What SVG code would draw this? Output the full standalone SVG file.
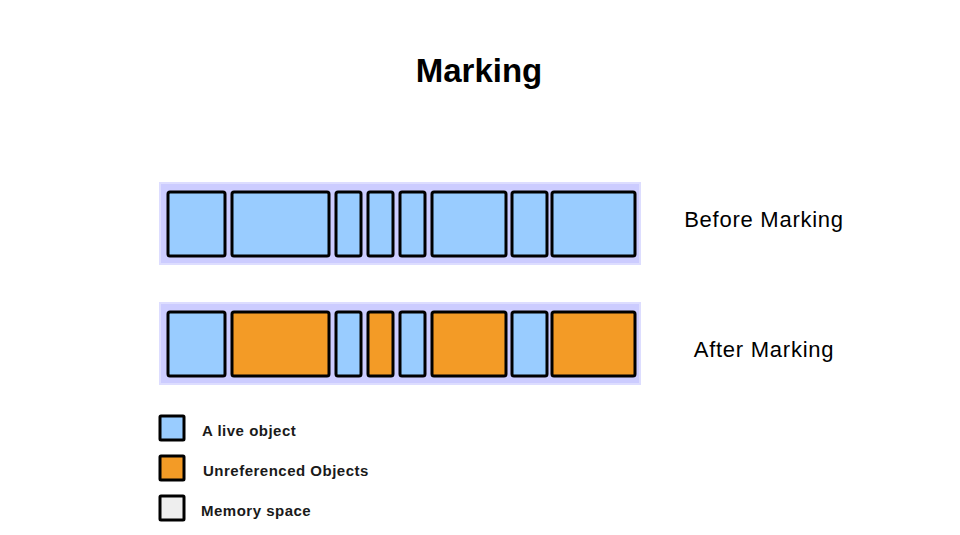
<svg xmlns="http://www.w3.org/2000/svg" width="960" height="535" viewBox="0 0 960 535">
<style>
.band{fill:#CCCCFF;stroke:#DDDDFF;stroke-width:2}
.live{fill:#99CCFF;stroke:#000;stroke-width:3}
.dead{fill:#F39B26;stroke:#000;stroke-width:3}
.mem{fill:#EEEEEE;stroke:#000;stroke-width:3}
.title{font-family:"Liberation Sans",Arial,sans-serif;font-weight:bold;font-size:33px;fill:#000}
.lbl{font-family:"Liberation Sans",Arial,sans-serif;font-size:22px;letter-spacing:0.75px;fill:#000}
.leg{font-family:"Liberation Sans",Arial,sans-serif;font-weight:bold;font-size:15px;letter-spacing:0.5px;fill:#1a1a1a}
</style>
<rect width="960" height="535" fill="#fff"/>
<text class="title" x="479" y="82" text-anchor="middle">Marking</text>
<g id="before">
<rect class="band" x="160" y="183" width="480" height="81"/>
<rect class="live" x="168" y="192" width="57" height="64" rx="2"/>
<rect class="live" x="232" y="192" width="97" height="64" rx="2"/>
<rect class="live" x="336" y="192" width="25" height="64" rx="2"/>
<rect class="live" x="368" y="192" width="25" height="64" rx="2"/>
<rect class="live" x="400" y="192" width="25" height="64" rx="2"/>
<rect class="live" x="432" y="192" width="74" height="64" rx="2"/>
<rect class="live" x="512" y="192" width="35" height="64" rx="2"/>
<rect class="live" x="552" y="192" width="83" height="64" rx="2"/>
<text class="lbl" x="764" y="227" text-anchor="middle">Before Marking</text>
</g>
<g id="after">
<rect class="band" x="160" y="303" width="480" height="81"/>
<rect class="live" x="168" y="312" width="57" height="64" rx="2"/>
<rect class="dead" x="232" y="312" width="97" height="64" rx="2"/>
<rect class="live" x="336" y="312" width="25" height="64" rx="2"/>
<rect class="dead" x="368" y="312" width="25" height="64" rx="2"/>
<rect class="live" x="400" y="312" width="25" height="64" rx="2"/>
<rect class="dead" x="432" y="312" width="74" height="64" rx="2"/>
<rect class="live" x="512" y="312" width="35" height="64" rx="2"/>
<rect class="dead" x="552" y="312" width="83" height="64" rx="2"/>
<text class="lbl" x="764" y="357" text-anchor="middle">After Marking</text>
</g>
<g id="legend-live">
<rect class="live" x="160" y="416" width="24" height="24" rx="1"/>
<text class="leg" x="202" y="436">A live object</text>
</g>
<g id="legend-dead">
<rect class="dead" x="160" y="456" width="24" height="24" rx="1"/>
<text class="leg" x="203" y="476">Unreferenced Objects</text>
</g>
<g id="legend-mem">
<rect class="mem" x="160" y="496" width="24" height="24" rx="1"/>
<text class="leg" x="201" y="516">Memory space</text>
</g>
<g id="connectors"></g>
</svg>
